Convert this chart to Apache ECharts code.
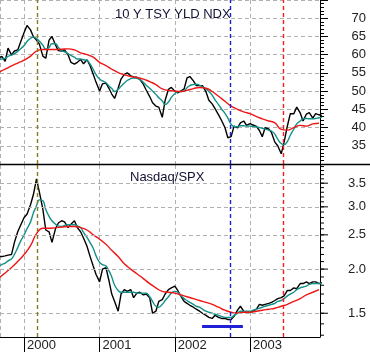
<!DOCTYPE html>
<html>
<head>
<meta charset="utf-8">
<script src="https://cdn.jsdelivr.net/npm/echarts@6.0.0/dist/echarts.min.js"></script>
<style>
html,body{margin:0;padding:0;background:#fff;}
#chart{width:370px;height:352px;}
</style>
</head>
<body>
<div id="chart"></div>
<script>
// date grid: 1st and 15th of each month, Sep 1999 .. Dec 2003
var halfMonths = [], monthStarts = [];
for (var y = 1999; y <= 2003; y++) {
	for (var m = 1; m <= 12; m++) {
		if (y == 1999 && m < 9) continue;
		var mm = (m < 10 ? '0' : '') + m;
		halfMonths.push(y + '-' + mm + '-01', y + '-' + mm + '-15');
		monthStarts.push(y + '-' + mm + '-01');
	}
}
var xStart = '1999-09-06', xEnd = '2003-12-06';

// 10 Y TSY YLD NDX (x10)
var yieldClose = [59.2,59.5,58.2,61.8,59.9,61.0,61.3,63.5,
	66.1,68.0,66.8,64.9,64.0,62.9,59.6,59.0,64.0,65.0,62.7,61.1,61.0,61.3,60.0,57.9,57.4,57.9,58.7,57.5,58.6,57.1,54.6,52.4,
	50.0,52.0,52.2,50.8,49.2,48.0,50.8,53.3,54.6,55.0,54.2,53.9,53.8,53.2,51.9,50.3,48.5,46.8,45.9,45.6,42.8,47.5,50.5,51.0,
	50.0,49.5,50.1,50.6,53.6,54.0,52.8,51.5,51.5,51.5,49.8,47.5,46.5,45.2,43.5,42.0,40.0,37.2,37.5,40.4,39.9,41.3,41.8,40.6,
	41.1,40.7,40.3,39.2,37.5,40.0,39.6,38.6,36.0,35.0,32.8,36.0,40.5,43.8,43.8,45.6,44.0,41.8,43.7,44.1,42.6,43.8,43.5,43.3];
var yieldShortMa = [58.8,58.8,59.0,59.5,59.9,60.3,60.9,61.6,
	62.5,63.6,64.5,64.8,64.4,63.7,62.6,61.5,62.0,63.0,63.0,62.0,61.1,60.8,60.3,59.8,59.3,58.8,58.8,58.6,58.4,57.5,56.0,54.5,
	53.3,52.8,52.3,51.4,50.7,49.9,50.5,51.3,52.2,52.9,53.4,53.6,53.5,53.2,52.4,51.6,50.8,50.0,49.1,48.2,47.3,46.3,47.0,48.3,
	49.3,49.8,49.9,50.1,50.9,51.5,51.8,51.9,51.6,51.2,50.6,49.9,48.9,47.6,46.3,45.1,43.9,42.6,40.9,40.3,40.2,40.5,40.5,40.4,
	40.4,40.3,40.2,40.0,39.8,39.6,39.3,39.0,38.2,36.8,35.6,35.3,36.2,37.9,39.6,41.0,41.8,42.4,42.5,42.4,42.4,42.5,42.7,42.8];
var yieldLongMa = [55.2,56.0,56.9,57.7,
	58.5,59.6,61.0,61.4,61.4,61.4,61.5,61.6,61.3,60.5,60.0,59.3,
	57.9,57.0,56.0,55.1,54.5,54.0,53.7,53.3,52.6,51.8,50.6,50.2,
	50.0,49.9,50.2,50.7,51.0,50.8,49.9,48.6,47.2,45.9,45.0,44.3,
	43.8,43.0,42.4,41.8,41.3,39.5,39.3,40.0,40.6,40.4,41.0,41.2];

// Nasdaq/SPX
var ratioClose = [2.17,2.17,2.18,2.19,2.20,2.38,2.55,2.66,
	2.80,2.86,3.04,3.25,3.60,3.30,2.95,2.58,2.55,2.38,2.60,2.70,2.74,2.72,2.62,2.68,2.74,2.62,2.55,2.45,2.32,2.18,2.04,1.93,
	1.84,2.00,2.02,1.86,1.70,1.62,1.52,1.70,1.75,1.73,1.75,1.66,1.71,1.72,1.69,1.70,1.66,1.50,1.52,1.62,1.64,1.70,1.75,1.77,
	1.79,1.74,1.67,1.62,1.60,1.58,1.56,1.54,1.52,1.50,1.48,1.46,1.45,1.48,1.46,1.45,1.45,1.44,1.44,1.47,1.53,1.57,1.52,1.50,
	1.51,1.52,1.54,1.59,1.58,1.59,1.60,1.61,1.63,1.65,1.66,1.68,1.74,1.74,1.77,1.76,1.82,1.82,1.84,1.82,1.84,1.84,1.82,1.83];
var ratioShortMa = [2.04,2.06,2.08,2.11,2.14,2.20,2.30,2.40,
	2.50,2.60,2.72,2.88,3.02,3.14,3.12,2.95,2.82,2.74,2.68,2.65,2.64,2.66,2.67,2.67,2.67,2.65,2.62,2.54,2.46,2.38,2.29,2.18,
	2.09,2.06,2.04,1.98,1.90,1.80,1.74,1.72,1.72,1.72,1.72,1.72,1.71,1.71,1.71,1.71,1.67,1.62,1.57,1.56,1.59,1.63,1.67,1.71,
	1.73,1.72,1.68,1.65,1.63,1.61,1.59,1.57,1.56,1.54,1.52,1.51,1.50,1.49,1.48,1.47,1.46,1.46,1.46,1.48,1.50,1.52,1.52,1.52,
	1.52,1.53,1.54,1.55,1.56,1.57,1.58,1.59,1.60,1.62,1.63,1.65,1.68,1.70,1.72,1.75,1.77,1.78,1.79,1.81,1.82,1.82,1.82,1.82];
var ratioLongMa = [1.89,1.95,2.02,2.10,
	2.20,2.33,2.52,2.61,2.61,2.62,2.63,2.64,2.64,2.62,2.58,2.50,
	2.43,2.35,2.26,2.17,2.07,2.00,1.94,1.88,1.82,1.77,1.73,1.72,
	1.71,1.69,1.67,1.65,1.63,1.61,1.59,1.56,1.53,1.51,1.50,1.51,
	1.51,1.52,1.53,1.54,1.55,1.57,1.59,1.62,1.65,1.69,1.72,1.75];

var ratioTicks = [1.5, 2.0, 2.5, 3.0, 3.5];
var ratioTickLabels = ['1.5', '2.0', '2.5', '3.0', '3.5'];
var ratioMinorTicks = [];
for (var t = 13; t <= 39; t++) ratioMinorTicks.push(t / 10);

// marker lines
var eventDates = ['2000-03-06', '2002-09-28', '2003-06-10'];
var eventColors = ['#8a7a1e', '#1f1fd6', '#ff1a1a'];
var lowBand = ['2002-05-13', '2002-11-27'];
var lowBandLevel = 1.38;

var font = '"Liberation Sans", Arial, sans-serif';
var dashGrid = {show: true, lineStyle: {color: '#b0b0b0', type: [4, 3], width: 1}};

function pairs(dates, vals) {
	return vals.map(function (v, i) { return [dates[i], v]; });
}
function eventLines() {
	return eventDates.map(function (d, i) {
		return {xAxis: d, lineStyle: {color: eventColors[i], type: [4, 3], width: 1.4}};
	});
}
function lineSeries(xi, dates, vals, color, width, z) {
	return {
		type: 'line', xAxisIndex: xi, yAxisIndex: xi, data: pairs(dates, vals),
		symbol: 'none', z: z, silent: true,
		lineStyle: {color: color, width: width}
	};
}

var chart = echarts.init(document.getElementById('chart'));

var topClose = lineSeries(0, halfMonths, yieldClose, '#000', 1.4, 2);
topClose.markLine = {symbol: ['none', 'none'], silent: true, label: {show: false}, data: eventLines()};

var botClose = lineSeries(1, halfMonths, ratioClose, '#000', 1.4, 2);
botClose.markLine = {
	symbol: ['none', 'none'], silent: true,
	data: ratioTicks.map(function (v, i) {
		return {
			yAxis: v,
			lineStyle: {color: '#b0b0b0', type: [4, 3], width: 1},
			label: {show: true, position: 'end', formatter: ratioTickLabels[i], align: 'right',
				distance: 46, color: '#222', fontSize: 13, fontFamily: font}
		};
	}).concat(eventLines().map(function (o) { o.label = {show: false}; return o; }))
};

var botLong = lineSeries(1, monthStarts, ratioLongMa, '#ee1515', 1.4, 4);
botLong.smooth = true;
botLong.markLine = {
	symbol: ['none', 'none'], silent: true, label: {show: false},
	data: [[{coord: [lowBand[0], lowBandLevel]}, {coord: [lowBand[1], lowBandLevel]}]],
	lineStyle: {color: '#1f1fd6', type: 'solid', width: 3}
};
botLong.markPoint = {
	silent: true, label: {show: false}, itemStyle: {color: '#000'},
	data: ratioTicks.map(function (v) {
		return {coord: [xEnd, v], symbol: 'rect', symbolSize: [8, 1], symbolOffset: [4, 0]};
	}).concat(ratioMinorTicks.map(function (v) {
		return {coord: [xEnd, v], symbol: 'rect', symbolSize: [4, 1], symbolOffset: [2, 0]};
	}))
};

var topShort = lineSeries(0, halfMonths, yieldShortMa, '#14908a', 1.4, 3);
topShort.smooth = true;
var topLong = lineSeries(0, monthStarts, yieldLongMa, '#ee1515', 1.4, 4);
topLong.smooth = true;
var botShort = lineSeries(1, halfMonths, ratioShortMa, '#14908a', 1.4, 3);
botShort.smooth = true;

chart.setOption({
	animation: false,
	backgroundColor: '#fff',
	title: [
		{text: '10 Y TSY YLD NDX', left: 110, top: 3, textStyle: {fontSize: 13, fontWeight: 'normal', color: '#111133', fontFamily: font}},
		{text: 'Nasdaq/SPX', left: 125, top: 166, textStyle: {fontSize: 13, fontWeight: 'normal', color: '#111133', fontFamily: font}}
	],
	grid: [
		{left: 0, right: 50, top: -9.8, height: 173.8},
		{left: 0, right: 50, top: 165, height: 172}
	],
	xAxis: [
		{type: 'time', gridIndex: 0, min: xStart, max: xEnd, splitNumber: 4,
			axisLine: {show: false}, axisTick: {show: false}, axisLabel: {show: false}, splitLine: dashGrid},
		{type: 'time', gridIndex: 1, min: xStart, max: xEnd, splitNumber: 4,
			axisLine: {show: true, lineStyle: {color: '#000', width: 1}},
			axisTick: {show: true, length: 15, lineStyle: {color: '#000'}},
			axisLabel: {formatter: '{yyyy}', align: 'left', margin: 2, padding: [0, 0, 0, 3],
				showMinLabel: false, showMaxLabel: false, color: '#222', fontSize: 13, fontFamily: font},
			splitLine: dashGrid}
	],
	yAxis: [
		{type: 'value', gridIndex: 0, position: 'right', min: 30, max: 75, interval: 5,
			axisLine: {show: true, lineStyle: {color: '#000', width: 1}},
			axisTick: {show: true, length: 8, lineStyle: {color: '#000'}},
			minorTick: {show: true, splitNumber: 5, length: 4, lineStyle: {color: '#000'}},
			axisLabel: {showMinLabel: false, showMaxLabel: false, margin: 46, align: 'right',
				color: '#222', fontSize: 13, fontFamily: font},
			splitLine: dashGrid},
		{type: 'log', gridIndex: 1, position: 'right', min: 1.285, max: 3.94,
			axisLine: {show: true, lineStyle: {color: '#000', width: 1}},
			axisTick: {show: false}, axisLabel: {show: false}, splitLine: {show: false}, minorTick: {show: false}}
	],
	graphic: [
		{type: 'line', shape: {x1: 0, y1: 164.5, x2: 370, y2: 164.5}, style: {stroke: '#000', lineWidth: 1.5}, z: 100}
	],
	series: [topClose, topShort, topLong, botClose, botShort, botLong]
});
</script>
</body>
</html>
